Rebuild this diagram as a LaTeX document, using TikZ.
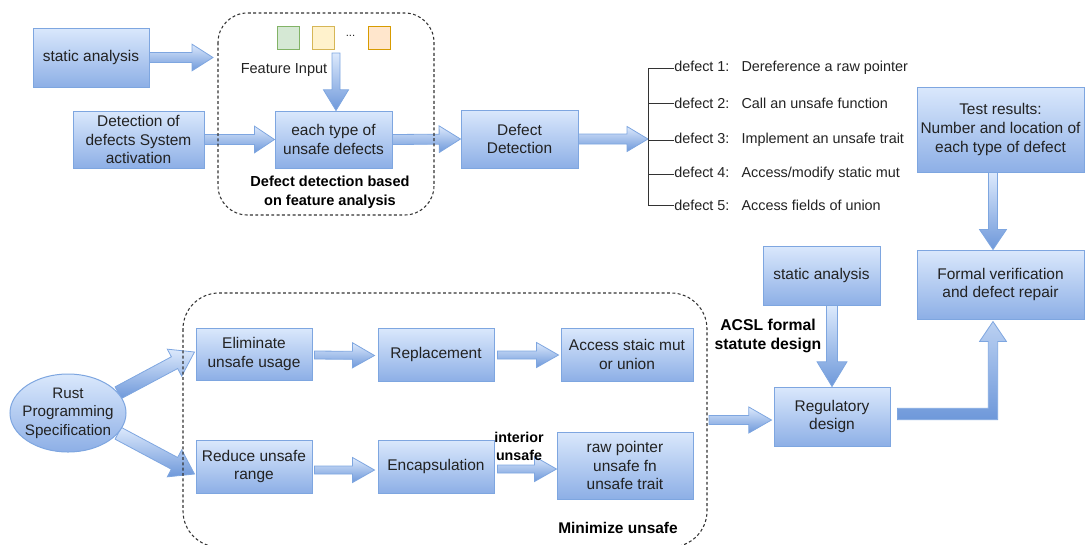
\documentclass[tikz,border=0pt]{standalone}
\usepackage{fontspec}
\setmainfont{Liberation Sans}
\usetikzlibrary{calc,shapes.geometric}

\definecolor{boxtop}{HTML}{DAE8FC}
\definecolor{boxbot}{HTML}{8DAFE6}
\definecolor{boxline}{HTML}{7EA6E0}
\definecolor{arrtop}{HTML}{DCE9FC}
\definecolor{arrbot}{HTML}{6E98DA}
\definecolor{txt}{HTML}{222222}
\definecolor{grp}{HTML}{333333}
\definecolor{gfill}{HTML}{D5E8D4}\definecolor{gline}{HTML}{82B366}
\definecolor{yfill}{HTML}{FFF2CC}\definecolor{yline}{HTML}{D6B656}
\definecolor{ofill}{HTML}{FFE6CC}\definecolor{oline}{HTML}{D79B00}

\pgfdeclarelayer{arrows}
\pgfsetlayers{arrows,main}

\newcommand\boxfont{\fontsize{11.6}{13.9}\selectfont}
\newcommand\deffont{\fontsize{10.8}{13}\selectfont}

\tikzset{
  box/.style={draw=boxline, line width=0.75pt, top color=boxtop, bottom color=boxbot,
    inner sep=0pt, align=center, text=txt, font=\boxfont},
  sz/.style 2 args={minimum width=#1*0.75pt, minimum height=#2*0.75pt},
  blockarrow/.style={draw=boxline, line width=0.6pt, top color=arrtop, bottom color=arrbot, line join=miter},
  group/.style={draw=grp, line width=0.8pt, dash pattern=on 2.2pt off 1.8pt},
  lbl/.style={align=center, text=black, inner sep=0pt},
  deftext/.style={anchor=west, inner sep=0pt, text=txt, font=\deffont},
  brline/.style={draw=grp, line width=0.6pt},
  feat/.style={line width=0.75pt, minimum width=16.5pt, minimum height=17.25pt, inner sep=0pt}}

% block arrow between two points: start, tip, shaft half-width, head half-width, head length
\newcommand\blockarrow[5]{%
  \path[blockarrow]
    ($(#1)!#3!90:(#2)$)
    -- ($(#2)!#5!(#1)!#3!-90:(#1)$)
    -- ($(#2)!#5!(#1)!#4!-90:(#1)$)
    -- (#2)
    -- ($(#2)!#5!(#1)!#4!90:(#1)$)
    -- ($(#2)!#5!(#1)!#3!90:(#1)$)
    -- ($(#1)!#3!-90:(#2)$)
    -- cycle;}

\begin{document}
\begin{tikzpicture}[x=0.75pt,y=-0.75pt]
\useasboundingbox (0,0) rectangle (1086,544);
\clip (0,0) rectangle (1086,544);

% dashed groups
\draw[group, rounded corners=22pt] (218,13) rectangle (434,215);
\draw[group, rounded corners=27pt] (183,293) rectangle (707,547);

% upper row
\node[box, sz={116}{59}] (sa1) at (91,57.5) {static analysis};
\node[box, sz={131}{57}] (det) at (138.5,139.5) {Detection of\\defects System\\activation};
\node[box, sz={117}{57}] (each) at (333.5,139.5) {each type of\\unsafe defects};
\node[box, sz={117}{58}] (dd) at (519.5,139) {Defect\\Detection};
\node[box, sz={167}{85}] (test) at (1000.5,129.5) {Test results:\\Number and location of\\each type of defect};
\node[box, sz={167}{69}] (fv) at (1000.5,284.5) {Formal verification\\and defect repair};

% feature inputs
\node[feat, draw=gline, fill=gfill] (f1) at (288,38) {};
\node[feat, draw=yline, fill=yfill] (f2) at (323.5,38) {};
\node[inner sep=0pt, text=txt, font=\fontsize{8.5}{8}\selectfont] (fdots) at (350.5,35.5) {...};
\node[feat, draw=oline, fill=ofill] (f3) at (379.5,38) {};
\node[inner sep=0pt, text=txt, font=\fontsize{10.9}{13}\selectfont] (fin) at (284,70) {Feature Input};

\node[lbl, font=\bfseries\fontsize{10.9}{14.25}\selectfont] (grp1) at (330,192.5) {Defect detection based\\on feature analysis};

% defect list
\node[deftext] (d1) at (674,68) {defect 1:\hspace{9pt}Dereference a raw pointer};
\node[deftext] (d2) at (674,103) {defect 2:\hspace{9pt}Call an unsafe function};
\node[deftext] (d3) at (674,140) {defect 3:\hspace{9pt}Implement an unsafe trait};
\node[deftext] (d4) at (674,174) {defect 4:\hspace{9pt}Access/modify static mut};
\node[deftext] (d5) at (674,205) {defect 5:\hspace{9pt}Access fields of union};
\coordinate (brk) at (648,139);
\draw[brline] (d1.west) -- (d1.west -| brk) -- (d5.west -| brk) -- (d5.west);
\foreach \d in {d2,d3,d4} \draw[brline] (\d.west -| brk) -- (\d.west);

% lower part
\node[draw=boxline, line width=0.75pt, top color=boxtop, bottom color=boxbot, ellipse,
  inner sep=0pt, minimum width=87pt, minimum height=58.5pt] (rust) at (68,413) {};
\node[lbl, text=txt, font=\fontsize{11.4}{13.9}\selectfont] (rusttxt) at (rust.center) {Rust\\Programming\\Specification};

\node[box, sz={116}{52}] (elim) at (254,354) {Eliminate\\unsafe usage};
\node[box, sz={116}{53}] (repl) at (436,354.5) {Replacement};
\node[box, sz={132}{53}] (acc) at (627,354.5) {Access staic mut\\or union};
\node[box, sz={116}{53}] (red) at (254,466.5) {Reduce unsafe\\range};
\node[box, sz={116}{53}] (enc) at (436,466.5) {Encapsulation};
\node[box, sz={136}{67}] (raw) at (625,465.5) {raw pointer\\unsafe fn\\unsafe trait};

\node[box, sz={117}{59}] (sa2) at (821.5,275.5) {static analysis};
\node[box, sz={116}{59}] (reg) at (832,416.5) {Regulatory\\design};

\node[lbl, font=\bfseries\fontsize{11.8}{14}\selectfont] (acsl) at (768,336) {ACSL formal\\statute design};
\node[lbl, font=\bfseries\fontsize{10.7}{13.5}\selectfont] (intr) at (519,446) {interior\\unsafe};
\node[lbl, font=\bfseries\fontsize{11.6}{14}\selectfont] (mini) at (618,528) {Minimize unsafe};

% arrow end points
\coordinate (saTip) at (213,57.5);
\coordinate (featSrc) at (336,53);
\coordinate (featTip) at (featSrc |- each.north);
\coordinate (ruA) at (rust.22);
\coordinate (ruB) at (rust.-22);
\coordinate (elimIn) at ($(elim.west)+(-1,-2)$);
\coordinate (redIn) at ($(red.west)+(-1,7.5)$);
\coordinate (e1) at ($(elim.east)+(2,1)$);  \coordinate (e2) at ($(repl.west)+(-3,1)$);
\coordinate (e3) at ($(repl.east)+(3,0.5)$); \coordinate (e4) at ($(acc.west)+(-2,0.5)$);
\coordinate (e5) at ($(red.east)+(2,3.5)$);  \coordinate (e6) at ($(enc.west)+(-3,3.5)$);
\coordinate (e7) at ($(enc.east)+(3,2.5)$);  \coordinate (e8) at ($(raw.west)+(0,3.5)$);
\coordinate (saOut) at (reg.north |- sa2.south);
\coordinate (grpOut) at (709,420);
\coordinate (regIn) at ($(grpOut -| reg.west)+(-2,0)$);
\coordinate (tOut) at ($(test.south)+(-7.5,0)$);
\coordinate (tIn) at ($(fv.north)+(-7.5,0)$);
\coordinate (elbS) at ($(reg.east)+(7,-2.5)$);
\coordinate (elbT) at ($(fv.south)+(-7.5,2)$);

% block arrows, kept beneath boxes, labels and dashed frames
\begin{pgfonlayer}{arrows}
\blockarrow{sa1.east}{saTip}{3.75pt}{10pt}{15.75pt}
\blockarrow{featSrc}{featTip}{3pt}{9.4pt}{15.5pt}
\blockarrow{det.east}{each.west}{3.75pt}{10pt}{15pt}
\blockarrow{each.east}{dd.west}{3.75pt}{10pt}{16pt}
\blockarrow{dd.east}{brk}{3.75pt}{9.4pt}{15.75pt}
\blockarrow{ruA}{elimIn}{5pt}{11.5pt}{17pt}
\blockarrow{ruB}{redIn}{5pt}{11.5pt}{17pt}
\blockarrow{e1}{e2}{3pt}{9.4pt}{16.5pt}
\blockarrow{e3}{e4}{3pt}{9.4pt}{16.5pt}
\blockarrow{e5}{e6}{3pt}{9.4pt}{16.5pt}
\blockarrow{e7}{e8}{3pt}{9.4pt}{16.5pt}
\blockarrow{saOut}{reg.north}{4.1pt}{11.2pt}{18.5pt}
\blockarrow{grpOut}{regIn}{3.4pt}{9.75pt}{17pt}
\blockarrow{tOut}{tIn}{3.4pt}{10.1pt}{15pt}
\path[blockarrow, top color=arrtop!70!arrbot] let \p1=(elbS), \p2=(elbT) in
  (\x1,\y1+4.3pt) -- (\x2-3.5pt,\y1+4.3pt) -- (\x2-3.5pt,\y2-15pt) -- (\x2-10.1pt,\y2-15pt)
  -- (\p2) -- (\x2+10.1pt,\y2-15pt) -- (\x2+3.5pt,\y2-15pt) -- (\x2+3.5pt,\y1-4.3pt)
  -- (\x1,\y1-4.3pt) -- cycle;
\end{pgfonlayer}
\end{tikzpicture}
\end{document}
